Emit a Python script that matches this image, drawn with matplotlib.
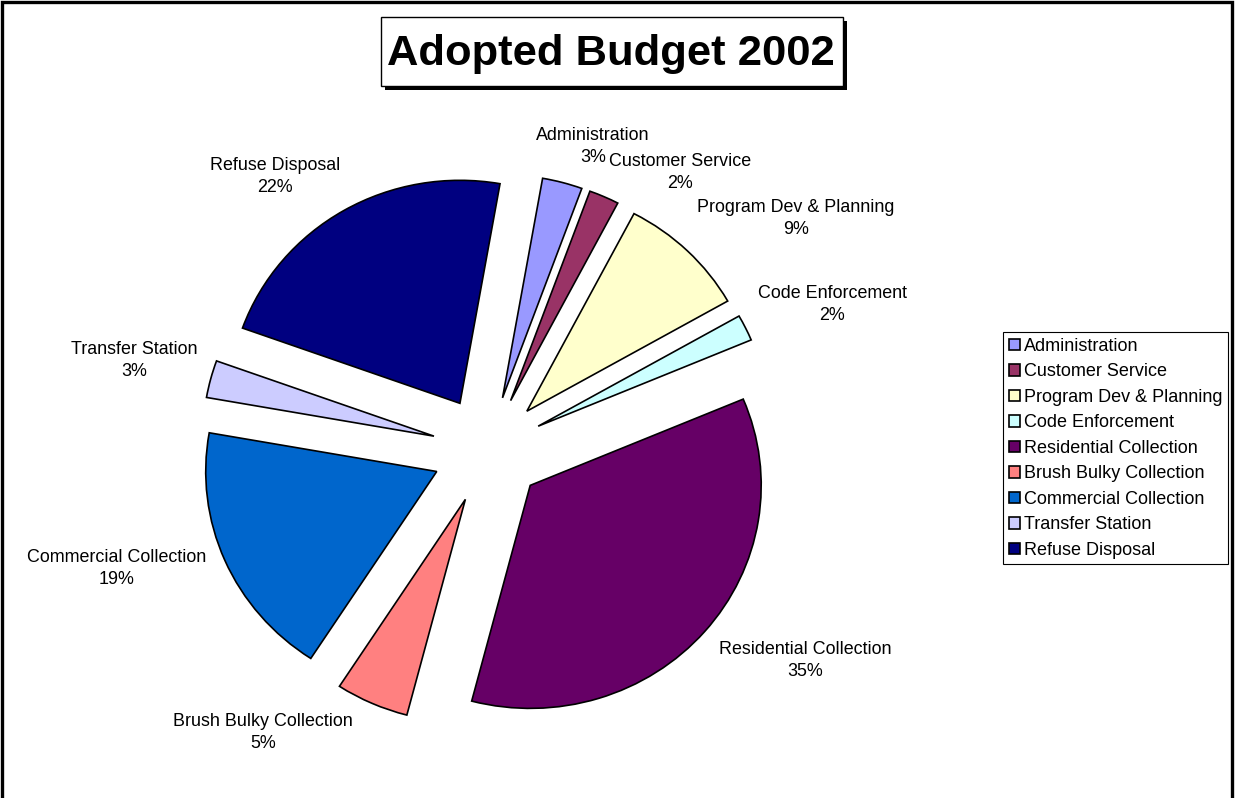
import matplotlib.pyplot as plt
from matplotlib.patches import Rectangle

plt.rcParams['font.family'] = ['Liberation Sans', 'DejaVu Sans']

# Budget shares by division (percent)
divisions = ["Administration", "Customer Service", "Program Dev & Planning",
             "Code Enforcement", "Residential Collection", "Brush Bulky Collection",
             "Commercial Collection", "Transfer Station", "Refuse Disposal"]
shares = [2.8, 2.1, 9.1, 1.9, 35.4, 5.1, 18.6, 2.7, 22.3]
colors = ["#9999FF", "#993366", "#FFFFCC", "#CCFFFF", "#660066",
          "#FF8080", "#0066CC", "#CCCCFF", "#000080"]

# where each data label block is centred (pixels from top-left)
label_xy = [(593, 146), (680, 173), (796, 218), (832, 304), (805, 661),
            (263, 733), (117, 569), (134, 361), (275, 177)]

W, H = 1236, 798
sy = 231 / 223  # the pie is drawn slightly squashed vertically
R = 231

fig = plt.figure(figsize=(W / 100, H / 100), dpi=100)

ax = fig.add_axes([0, 0, 1, 1])
ax.axis('off')

# every slice pulled out by about a quarter of the radius
wedges, _ = ax.pie(shares, colors=colors, startangle=80, counterclock=False,
                   explode=[0.242 * R] * len(shares), radius=R,
                   center=(488, (H - 450) * sy),
                   wedgeprops=dict(edgecolor='black', linewidth=1.2))
ax.set_aspect('auto')
ax.set_xlim(0, W)
ax.set_ylim(0, H * sy)

# overlay in pixel coordinates for title, labels and border
ov = fig.add_axes([0, 0, 1, 1])
ov.set_xlim(0, W)
ov.set_ylim(H, 0)
ov.axis('off')

# name on one line, percentage underneath
total = sum(shares)
for name, v, (x, y) in zip(divisions, shares, label_xy):
    ov.text(x, y - 11, name, ha='center', va='center', fontsize=12.9)
    ov.text(x, y + 11, f"{v / total * 100:.0f}%", ha='center', va='center',
            fontsize=12.9)

# title box with drop shadow
ov.add_patch(Rectangle((385, 21), 462, 69, facecolor='black', edgecolor='none'))
ov.add_patch(Rectangle((381, 17), 462, 69, facecolor='white', edgecolor='black', lw=1))
ov.text(611, 65, "Adopted Budget 2002", ha='center', va='baseline',
        fontsize=31.3, fontweight='bold')

# chart border (bottom edge falls off the page)
ov.plot([2, 2, 1232, 1232], [H + 10, 1.5, 1.5, H + 10], color='black', lw=2.4,
        solid_joinstyle='miter')

leg = fig.legend(wedges, divisions, loc='upper left',
                 bbox_to_anchor=(1003 / W, 1 - 332 / H), fontsize=13,
                 frameon=True, fancybox=False, framealpha=1, edgecolor='black',
                 borderaxespad=0, borderpad=0.32, handlelength=0.6,
                 handleheight=0.6, handletextpad=0.25, labelspacing=0.47)
leg.get_frame().set_linewidth(0.8)

fig.savefig("out.png", dpi=100)
